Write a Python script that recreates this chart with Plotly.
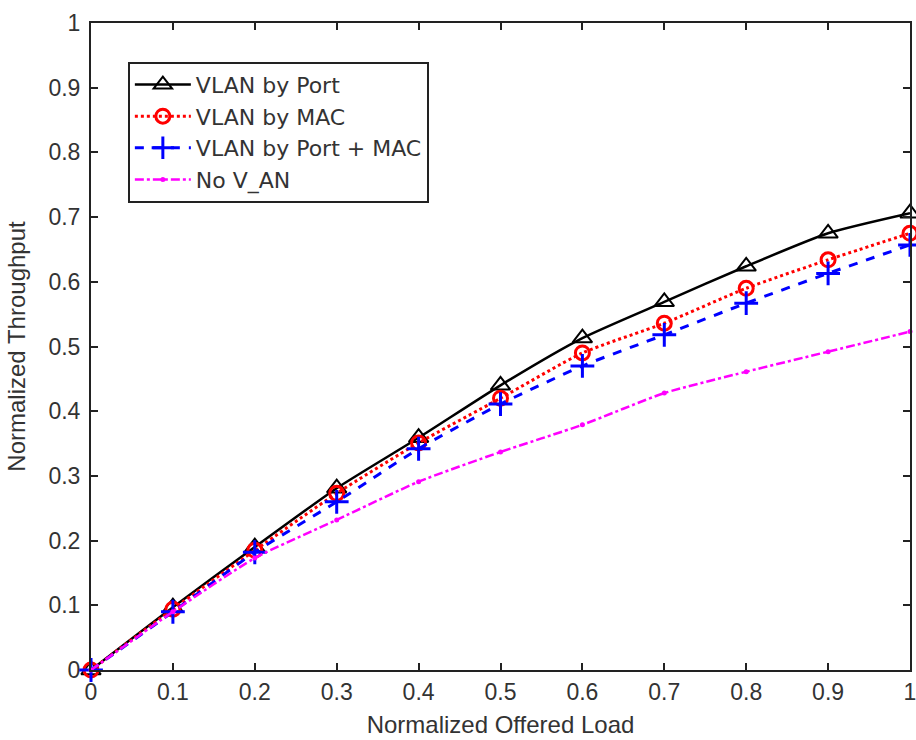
import plotly.graph_objects as go

load = [0, 0.1, 0.2, 0.3, 0.4, 0.5, 0.6, 0.7, 0.8, 0.9, 1.0]
port = [0, 0.097, 0.190, 0.281, 0.359, 0.440, 0.513, 0.569, 0.624, 0.675, 0.706]
mac = [0, 0.094, 0.185, 0.273, 0.351, 0.420, 0.490, 0.536, 0.590, 0.634, 0.675]
port_mac = [0, 0.090, 0.182, 0.260, 0.342, 0.411, 0.470, 0.518, 0.567, 0.613, 0.657]
no_vlan = [0, 0.090, 0.173, 0.232, 0.291, 0.337, 0.379, 0.428, 0.461, 0.492, 0.523]

names = ["VLAN by Port", "VLAN by MAC", "VLAN by Port + MAC", "No V_AN"]
ticks = [0, 0.1, 0.2, 0.3, 0.4, 0.5, 0.6, 0.7, 0.8, 0.9, 1]

FONT = "Liberation Sans, Arial"
LFONT = "DejaVu Sans, Verdana"
TXT = "#333333"

fig = go.Figure()
fig.add_trace(go.Scatter(x=load, y=port, name=names[0], mode="lines+markers", cliponaxis=False,
                         line=dict(color="black", width=2.5, shape="spline", smoothing=0.6),
                         marker=dict(symbol="triangle-up-open", size=17, color="black",
                                     line=dict(width=2, color="black"))))
fig.add_trace(go.Scatter(x=load, y=mac, name=names[1], mode="lines+markers", cliponaxis=False,
                         line=dict(color="#ff0000", width=3, dash="dot", shape="spline", smoothing=0.6),
                         marker=dict(symbol="circle-open", size=14, color="#ff0000",
                                     line=dict(width=3, color="#ff0000"))))
fig.add_trace(go.Scatter(x=load, y=port_mac, name=names[2], mode="lines+markers", cliponaxis=False,
                         line=dict(color="#0000ff", width=3, dash="dash", shape="spline", smoothing=0.6),
                         marker=dict(symbol="cross-thin-open", size=17, color="#0000ff",
                                     line=dict(width=3, color="#0000ff"))))
fig.add_trace(go.Scatter(x=load, y=no_vlan, name=names[3], mode="lines+markers", cliponaxis=False,
                         line=dict(color="#ff00ff", width=2.5, dash="dashdot", shape="spline", smoothing=0.6),
                         marker=dict(symbol="circle", size=5, color="#ff00ff")))

axis_common = dict(showline=True, linecolor="#222222", linewidth=2, mirror="ticks",
                   ticks="inside", ticklen=7, tickwidth=1.5, tickcolor="#222222",
                   showgrid=False, zeroline=False, automargin=False,
                   ticklabeloverflow="allow",
                   tickfont=dict(family=FONT, size=23, color=TXT))

fig.update_layout(
    width=916, height=740,
    margin=dict(l=91, r=6, t=23, b=70),
    paper_bgcolor="white", plot_bgcolor="white",
    xaxis=dict(range=[0, 1], tickvals=ticks,
               title=dict(text="Normalized Offered Load", standoff=13,
                          font=dict(family=FONT, size=24, color=TXT)),
               **axis_common),
    yaxis=dict(range=[0, 1], tickvals=ticks, ticklabelstandoff=4,
               title=dict(text="Normalized Throughput", standoff=16,
                          font=dict(family=FONT, size=24, color=TXT)),
               **axis_common),
    legend=dict(x=0.045, y=0.94, xanchor="left", yanchor="top",
                bgcolor="white", bordercolor="#222222", borderwidth=2,
                font=dict(family=LFONT, size=22, color=TXT),
                tracegroupgap=0, itemwidth=56),
    showlegend=True,
)

fig.write_html("out.html", config={"displayModeBar": False},
               post_script="document.body.style.margin='0';document.body.style.overflow='hidden';")
